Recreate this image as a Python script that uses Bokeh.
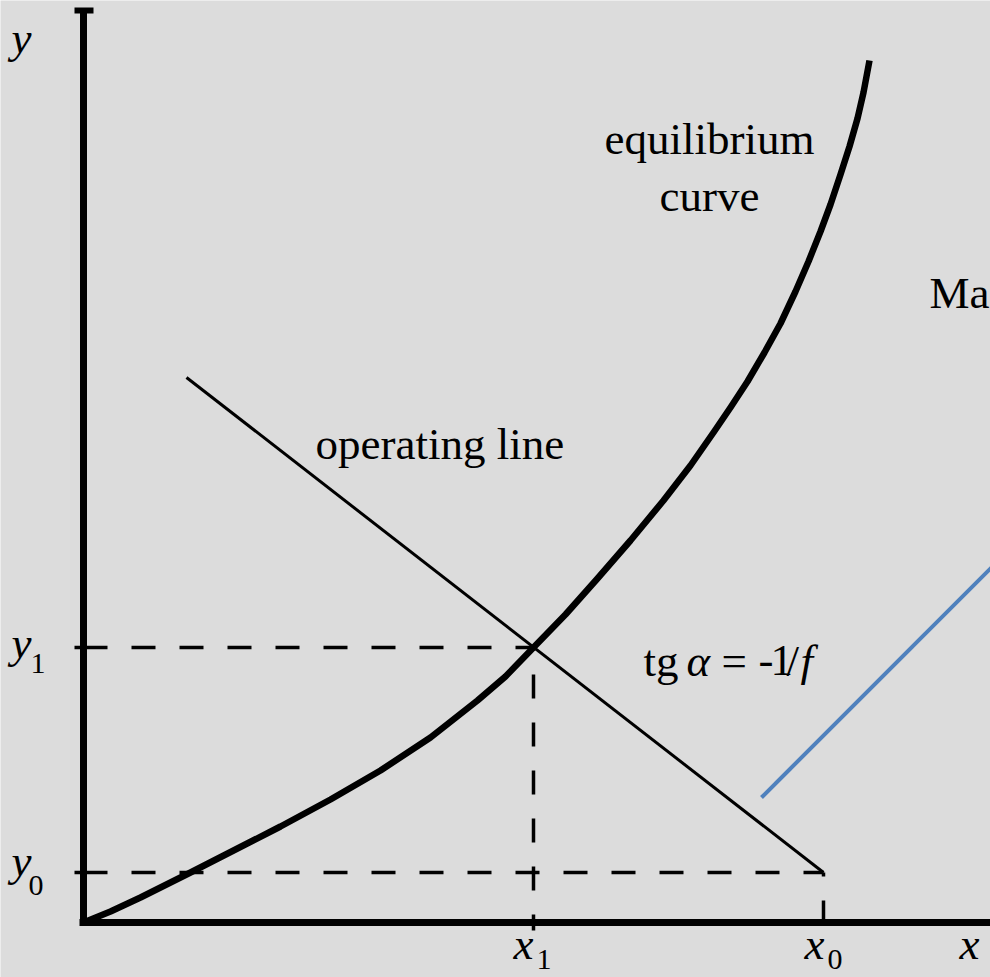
from bokeh.plotting import figure
from bokeh.models import Range1d
from bokeh.core.properties import value
from bokeh.embed import file_html
from bokeh.resources import INLINE

# Diagram coordinates (arbitrary units, origin at the axes corner)
x1, x0 = 4.50, 7.40          # outlet / inlet liquid composition
y1, y0 = 2.75, 0.50          # outlet / inlet vapour composition

# Equilibrium curve y = f(x)
eq_x = [0.00, 0.27, 0.57, 1.07, 1.52, 1.97, 2.47, 2.97, 3.47, 3.94, 4.22,
        4.50, 4.82, 5.14, 5.47, 5.80, 6.07, 6.30, 6.47, 6.64, 6.81, 6.97,
        7.12, 7.25, 7.37, 7.47, 7.57, 7.66, 7.74, 7.80, 7.86]
eq_y = [0.00, 0.11, 0.25, 0.50, 0.73, 0.96, 1.23, 1.52, 1.85, 2.22, 2.46,
        2.75, 3.08, 3.44, 3.82, 4.22, 4.57, 4.90, 5.15, 5.41, 5.70, 5.99,
        6.31, 6.61, 6.91, 7.18, 7.48, 7.76, 8.04, 8.30, 8.62]

# Operating line through (x1, y1) and (x0, y0), slope -1/f
op_x = [1.03, x0]
op_y = [5.45, y0]

# Blue guide line
blue_x = [6.78, 9.30]
blue_y = [1.25, 3.77]

# Axis extents
y_axis_top = 9.12
x_axis_end = 9.30

W, H = 990, 977
p = figure(width=W, height=H, output_backend="svg", toolbar_location=None,
           x_axis_location=None, y_axis_location=None, min_border=0,
           x_range=Range1d(-0.83, 9.07), y_range=Range1d(-0.55, 9.22))
p.grid.visible = False
p.outline_line_color = None
p.background_fill_color = "#dcdcdc"
p.border_fill_color = "#dcdcdc"

dash = "24 24"
# Dashed guides
p.line([0, x1], [y1, y1], line_color="black", line_width=3.5, line_dash=dash)
p.line([0, x0], [y0, y0], line_color="black", line_width=3.5, line_dash=dash)
p.line([x1, x1], [y1, -0.08], line_color="black", line_width=3.5,
       line_dash=dash, line_dash_offset=21)
p.line([x0, x0], [y0, -0.10], line_color="black", line_width=3.5,
       line_dash=dash, line_dash_offset=20)
# small ticks left of the y axis
p.segment(x0=[-0.09, -0.09], y0=[y1, y0], x1=[0, 0], y1=[y1, y0],
          line_color="black", line_width=3.5)

# Operating line
p.line(op_x, op_y, line_color="black", line_width=3)
# Equilibrium curve
p.line(eq_x, eq_y, line_color="black", line_width=6.5, line_join="round")
# Blue guide
p.line(blue_x, blue_y, line_color="#4f81bd", line_width=4)

# Axes
p.line([0, 0], [y_axis_top, -0.03], line_color="black", line_width=7)
p.line([-0.04, x_axis_end], [0, 0], line_color="black", line_width=7)
p.segment(x0=[-0.09], y0=[y_axis_top], x1=[0.10], y1=[y_axis_top],
          line_color="black", line_width=6)

serif = value("Liberation Serif")
BIG, SMALL = 45, 30

def label(x, y, t, size=BIG, style="normal", align="left"):
    # baseline correction for the svg text placement (about a third of an em)
    y_adj = y + 0.0033 * size
    p.text(x=[x], y=[y_adj], text=[t], text_font=serif,
           text_font_size=f"{size}px", text_font_style=style,
           text_align=align, text_baseline="alphabetic", text_color="black")

# axis variable labels
label(-0.72, 8.70, "y", style="italic")
label(-0.72, 2.65, "y", style="italic")
label(-0.53, 2.49, "1", size=SMALL)
label(-0.72, 0.47, "y", style="italic")
label(-0.55, 0.27, "0", size=SMALL)
label(4.30, -0.36, "x", style="italic")
label(4.53, -0.47, "1", size=SMALL)
label(7.21, -0.36, "x", style="italic")
label(7.44, -0.47, "0", size=SMALL)
label(8.76, -0.36, "x", style="italic")

# annotations
label(6.26, 7.69, "equilibrium", align="center")
label(6.26, 7.12, "curve", align="center")
label(2.32, 4.64, "operating line")
label(5.60, 2.47, "tg")
label(6.03, 2.47, "α", style="italic")
label(6.38, 2.47, "=")
label(6.75, 2.47, "-")
label(6.87, 2.47, "1")
label(7.03, 2.47, "/")
label(7.17, 2.47, "f", style="italic")
label(8.46, 6.15, "Ma")

open("out.html", "w").write(file_html(p, INLINE))
